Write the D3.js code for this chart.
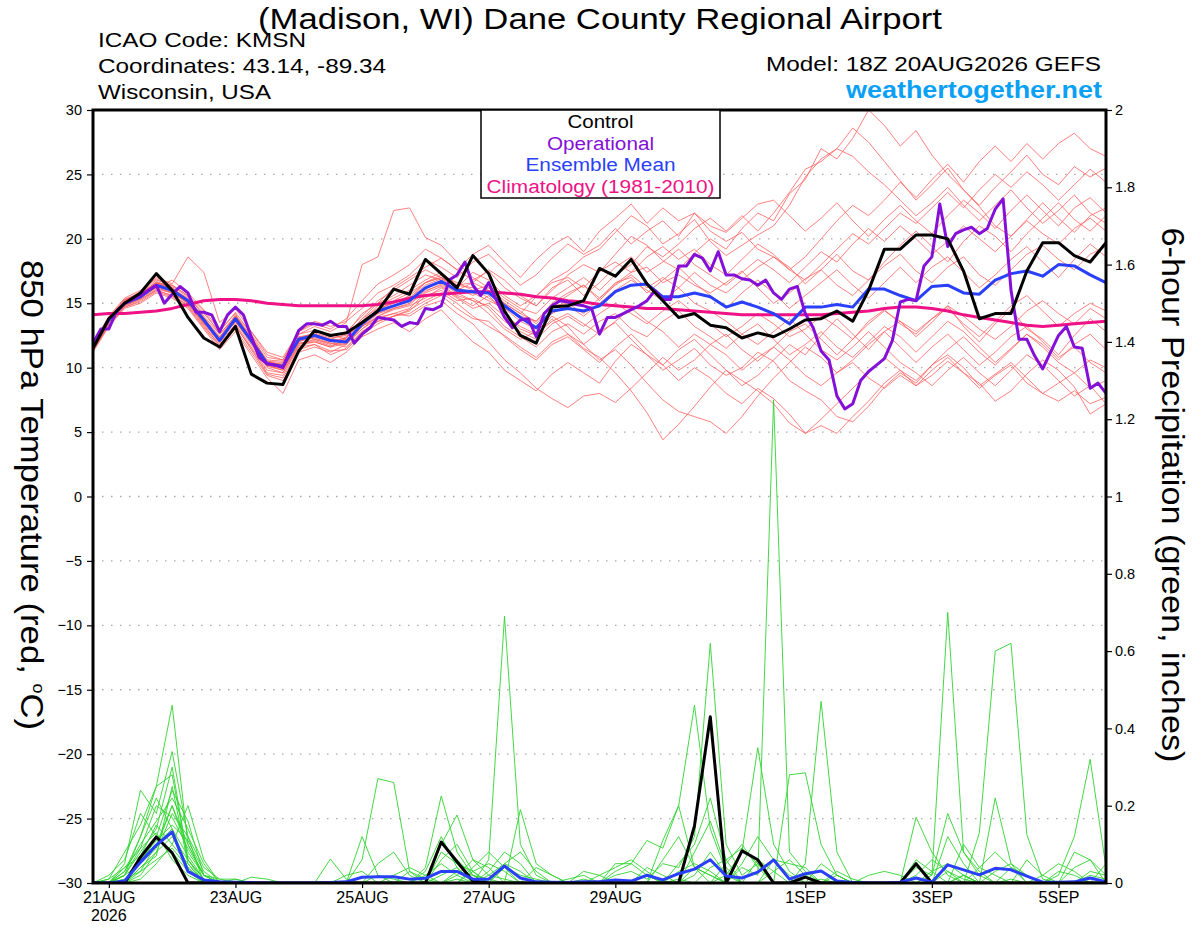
<!DOCTYPE html>
<html>
<head>
<meta charset="utf-8">
<script src="https://cdn.jsdelivr.net/npm/d3@7"></script>
<style>
  body { margin: 0; background: #fff; }
  svg { font-family: "Liberation Sans", Arial, Helvetica, sans-serif; }
</style>
</head>
<body>
<div id="chart"></div>
<script>
// ---- run / time info ----
var runStart = Date.UTC(2026, 7, 20, 18);   // 18Z 20AUG2026
var SIX_H = 6 * 3600 * 1000;
var THREE_H = 3 * 3600 * 1000;
var tickDays = [[7, 21], [7, 23], [7, 25], [7, 27], [7, 29], [8, 1], [8, 3], [8, 5]];
var monthNames = ["JAN","FEB","MAR","APR","MAY","JUN","JUL","AUG","SEP","OCT","NOV","DEC"];
var tempTicks = [-30, -25, -20, -15, -10, -5, 0, 5, 10, 15, 20, 25, 30];
var precipTicks = [0, 0.2, 0.4, 0.6, 0.8, 1, 1.2, 1.4, 1.6, 1.8, 2];

// ---- 850 hPa temperature (C), 6-hourly ----
var controlTemp = [
  11.5,13.8,15.0,15.8,17.3,16.0,13.9,12.3,11.6,13.2,9.5,8.8,8.7,
  11.3,12.9,12.5,12.7,13.5,14.4,16.1,15.7,18.4,17.3,16.2,18.7,17.3,
  14.4,12.5,11.9,14.7,14.8,15.2,17.7,17.1,18.4,16.5,15.2,13.9,14.2,
  13.3,13.1,12.3,12.7,12.4,13.0,13.7,13.8,14.4,13.6,16.0,19.2,19.2,
  20.3,20.3,20.0,17.5,13.8,14.2,14.2,17.5,19.7,19.7,18.7,18.2,19.7
];
var meanTemp = [
  11.6,13.7,15.0,15.5,16.4,16.0,15.2,13.7,12.1,13.8,12.1,10.3,10.1,
  12.2,12.5,12.1,12.0,13.4,14.4,14.8,15.2,16.2,16.7,16.0,15.9,15.8,
  14.8,13.9,13.1,14.4,14.6,14.4,14.8,15.9,16.4,16.5,15.5,15.5,15.8,
  15.5,14.7,15.1,14.7,14.2,13.4,14.7,14.7,14.9,14.7,16.1,16.1,15.6,
  15.2,16.3,16.4,15.8,15.7,16.8,17.3,17.5,17.1,18.0,17.9,17.2,16.6
];
var climoTemp = [
  14.1,14.2,14.2,14.3,14.4,14.6,14.9,15.2,15.3,15.3,15.2,15.0,14.9,
  14.8,14.8,14.8,14.8,14.8,14.9,15.1,15.4,15.6,15.7,15.8,15.9,15.9,
  15.8,15.7,15.5,15.4,15.2,15.1,14.9,14.8,14.7,14.6,14.6,14.5,14.4,
  14.3,14.2,14.1,14.1,14.1,14.1,14.1,14.1,14.2,14.3,14.4,14.6,14.7,
  14.7,14.6,14.4,14.1,13.9,13.7,13.5,13.3,13.2,13.3,13.4,13.5,13.6
];
// operational run, 3-hourly
var operTemp = [
  11.9,13.0,13.0,14.4,15.0,15.3,15.6,16.0,16.4,15.0,15.7,16.3,15.8,
  14.3,14.3,14.1,12.8,14.1,14.7,14.1,12.4,10.8,10.3,10.2,10.0,
  11.5,12.9,13.4,13.4,13.3,13.6,13.2,13.2,11.9,12.6,13.1,13.9,
  13.8,13.7,13.2,13.5,13.4,14.6,14.5,14.8,16.8,17.2,18.2,16.4,
  15.6,16.6,15.2,13.9,13.1,13.7,13.8,12.4,14.2,14.8,15.2,15.1,
  14.9,14.8,14.6,12.6,13.9,13.9,14.2,14.5,14.8,15.2,16.0,15.3,
  15.3,17.9,17.9,18.8,18.5,17.5,19.0,17.2,17.2,16.9,16.8,16.4,
  16.8,15.8,15.3,16.1,16.3,14.2,13.1,11.3,10.6,7.8,6.8,7.2,
  9.0,9.7,10.2,10.7,12.1,15.1,15.3,15.2,17.9,18.6,22.7,19.4,
  20.4,20.7,20.9,20.4,20.8,22.3,23.1,16.0,12.2,12.2,10.9,9.9,
  11.2,12.5,13.2,11.6,11.5,8.4,8.8,8.0
];
// ensemble members
var memberTemps = [
  [11.4,13.5,15.2,15.9,17.0,16.5,18.6,17.4,13.5,14.6,12.8,11.0,10.6,
   12.6,13.2,12.8,13.5,18.0,18.6,22.2,22.4,20.1,19.5,18.2,17.0,16.2,
   15.0,14.2,15.5,16.8,17.5,18.6,19.2,20.5,21.8,21.0,19.6,20.4,21.5,
   19.8,18.7,19.5,20.3,21.0,22.6,24.8,26.2,27.0,28.6,27.5,26.0,24.5,
   23.0,24.2,25.5,23.8,22.6,24.0,25.2,26.5,25.0,24.2,25.6,24.8,25.5],
  [11.8,13.9,15.0,15.6,16.2,16.8,15.8,14.5,12.9,14.2,12.0,10.2,9.8,
   11.9,12.0,11.6,12.3,13.8,15.0,16.2,17.0,17.8,18.5,17.6,16.8,17.5,
   16.2,15.4,14.8,16.0,17.2,18.0,17.4,18.8,20.2,19.5,18.3,17.6,18.9,
   20.0,19.2,20.8,22.0,21.4,23.5,24.6,27.0,26.2,27.8,30.0,28.8,27.2,
   28.4,26.5,25.0,23.8,22.5,21.0,20.2,21.5,22.8,21.6,20.5,21.8,22.4],
  [11.2,13.2,14.6,15.0,15.8,15.4,14.6,13.0,11.4,12.8,11.0,9.2,8.0,
   10.6,11.0,10.4,11.2,12.4,13.0,13.5,12.8,13.8,14.5,13.2,12.0,11.2,
   9.8,9.0,8.2,9.5,10.4,9.6,8.8,10.5,11.8,11.0,9.8,10.6,11.5,
   10.2,9.4,10.0,11.2,10.5,9.0,8.2,7.5,6.2,5.8,7.0,8.5,9.6,
   8.8,10.2,11.0,10.0,8.6,9.5,10.4,9.2,8.0,7.4,8.2,7.2,7.7],
  [11.6,13.6,15.3,15.7,16.6,16.2,15.0,13.4,12.4,13.5,12.3,10.6,10.5,
   12.0,12.8,12.6,12.2,13.2,13.9,14.2,14.6,15.8,16.3,15.5,14.8,15.6,
   14.2,13.0,12.5,13.8,12.6,11.5,10.8,9.6,8.2,6.5,4.4,5.6,7.0,
   8.5,9.8,8.6,9.4,10.6,11.8,11.0,12.5,13.8,12.6,11.4,12.8,13.6,
   12.4,13.5,14.8,13.2,12.0,13.4,14.5,13.0,12.2,11.0,12.5,13.8,12.8],
  [11.9,14.0,15.4,16.0,16.9,16.3,15.5,14.2,12.8,14.3,12.6,10.8,10.6,
   12.8,13.4,13.0,13.8,15.2,16.5,17.2,18.0,19.2,18.5,17.6,18.8,19.5,
   18.2,17.0,18.4,19.5,20.2,19.0,20.6,21.6,22.7,21.2,22.4,21.4,22.0,
   20.6,19.8,20.5,19.2,18.6,17.8,16.5,17.6,18.8,17.5,16.8,18.2,19.5,
   20.6,19.4,18.2,19.8,21.0,20.2,19.0,20.4,21.6,22.8,21.5,20.6,21.8],
  [11.3,13.4,14.8,15.3,16.0,15.6,14.8,13.2,11.8,13.2,11.5,9.6,9.4,
   11.6,11.8,11.0,11.5,12.8,13.6,14.0,14.5,15.2,15.8,15.0,14.0,13.2,
   12.5,11.6,10.8,12.0,12.6,11.8,12.8,13.5,12.2,11.0,10.2,11.4,12.2,
   11.0,9.8,9.0,8.2,7.2,5.7,4.9,5.5,4.9,6.2,7.4,8.8,9.8,
   8.6,9.4,10.5,9.6,8.8,7.4,8.2,9.5,10.6,9.8,8.5,6.4,7.2],
  [11.7,13.8,15.1,15.5,16.5,16.1,15.4,13.9,12.0,13.9,12.4,10.4,10.2,
   12.4,12.2,11.8,12.4,13.6,14.8,15.4,16.0,16.8,17.4,16.4,16.2,15.4,
   14.6,14.0,13.6,15.0,15.8,16.4,15.2,16.5,17.4,17.8,16.6,17.2,16.4,
   15.8,16.6,17.5,16.2,15.0,15.8,16.9,17.6,16.4,15.6,16.8,17.9,18.8,
   17.5,16.6,17.8,18.6,17.2,16.4,17.6,18.8,19.5,18.4,17.6,18.8,19.4],
  [11.5,13.6,14.9,15.4,16.3,15.8,15.1,13.5,12.2,13.6,11.8,10.0,9.6,
   11.8,12.2,11.9,11.6,12.8,13.6,14.0,14.4,15.6,16.0,15.2,15.4,14.6,
   13.2,12.4,11.6,12.8,13.4,12.6,13.6,14.2,13.0,12.4,13.6,14.4,13.2,
   12.4,11.5,12.6,13.4,12.2,11.0,11.8,12.8,11.6,10.8,12.0,13.2,12.4,
   11.2,12.4,13.6,12.8,11.6,10.4,11.5,12.6,11.8,10.6,11.8,12.6,11.4],
  [11.6,13.7,15.2,15.8,16.8,16.4,15.6,14.0,12.6,14.0,12.5,10.5,10.4,
   12.6,12.9,12.4,12.8,14.0,15.2,16.0,16.8,17.6,17.0,16.2,17.4,16.8,
   15.6,14.8,15.6,16.6,17.0,16.2,17.5,18.2,17.4,18.6,19.4,18.4,19.2,
   18.0,17.2,18.4,19.6,18.8,17.6,18.6,20.0,21.4,22.6,21.8,23.0,24.4,
   23.2,24.6,25.8,24.4,26.0,27.2,26.0,27.4,26.2,27.4,28.2,27.0,26.4],
  [11.4,13.3,14.7,15.1,15.9,15.5,14.7,13.1,11.6,13.0,11.2,9.4,9.0,
   11.2,11.6,11.2,11.8,13.0,13.8,14.2,14.0,14.8,15.2,14.2,13.4,12.0,
   10.6,9.6,8.4,7.6,6.9,7.8,8.0,7.3,8.4,9.6,10.8,9.8,10.6,
   11.8,12.6,11.4,10.5,11.6,12.8,13.4,12.2,11.0,12.2,13.6,14.5,13.4,
   12.6,13.8,14.6,13.4,12.4,13.6,14.8,15.6,14.4,13.2,14.2,15.0,14.4],
  [11.8,13.9,15.3,15.8,16.6,16.4,15.6,14.4,12.6,14.0,12.8,11.2,10.8,
   12.8,13.6,13.2,13.6,14.6,15.8,16.4,17.2,18.4,17.8,17.0,18.2,18.8,
   17.6,16.4,17.2,18.5,19.6,18.8,19.5,20.8,19.6,20.6,21.4,20.2,22.0,
   21.0,20.5,21.6,22.7,23.0,21.8,20.6,21.6,22.8,21.4,20.2,21.5,22.6,
   21.4,20.4,21.8,23.0,22.0,20.8,22.2,23.4,22.2,21.0,22.4,23.2,22.0],
  [11.6,13.7,15.0,15.6,16.4,15.9,15.0,13.6,12.0,13.7,12.0,10.2,9.9,
   12.0,12.4,12.0,12.2,13.4,14.2,14.6,15.0,16.0,16.4,15.6,15.2,14.2,
   13.0,12.2,12.8,14.0,13.2,11.8,10.6,11.4,10.2,8.8,7.5,6.6,6.2,
   5.8,4.9,6.2,7.8,9.2,10.4,11.6,10.8,9.6,10.6,11.8,12.8,11.6,
   10.4,11.6,12.6,11.4,10.2,11.2,12.4,13.2,12.0,10.8,11.6,10.4,9.6],
  [11.7,13.8,15.1,15.6,16.7,16.2,15.3,13.8,12.3,14.1,12.2,10.4,10.3,
   12.4,12.6,12.2,12.6,14.2,15.0,15.6,16.4,17.2,16.8,16.0,16.6,17.6,
   16.8,15.6,14.8,16.2,16.8,15.6,16.6,17.8,18.6,17.4,18.2,19.2,18.0,
   17.2,16.4,17.4,18.4,17.6,16.6,17.8,19.0,18.2,19.6,20.8,19.8,21.0,
   20.0,18.8,19.8,21.0,20.0,19.0,20.2,21.4,20.4,19.6,20.8,21.6,20.6],
  [11.5,13.5,14.8,15.3,16.1,15.8,15.0,13.4,11.9,13.4,11.6,9.8,9.6,
   11.7,12.0,11.6,11.9,13.0,14.0,14.5,14.8,15.4,16.2,15.4,14.6,15.0,
   14.0,13.2,12.6,13.6,14.2,13.4,12.6,13.6,14.6,13.6,12.8,11.6,12.6,
   11.8,11.0,9.8,10.8,11.6,10.6,9.4,8.6,9.6,10.4,9.2,8.4,9.4,
   8.6,9.8,10.8,9.6,8.4,9.4,10.2,8.8,8.0,8.8,9.6,8.4,9.0],
  [11.8,13.9,15.2,15.6,16.5,16.1,15.3,13.9,12.4,13.9,12.3,10.5,10.2,
   12.3,12.7,12.3,12.5,13.8,14.6,15.0,15.6,16.6,17.2,16.6,16.0,16.4,
   15.4,14.6,14.2,15.4,16.2,17.0,16.0,17.2,18.0,19.4,18.6,19.6,20.8,
   21.6,20.6,21.8,20.6,22.0,23.6,25.4,26.0,27.0,26.4,25.2,24.2,23.0,
   21.8,22.8,24.0,22.6,21.4,22.6,23.8,22.4,21.2,22.2,23.4,22.0,21.2],
  [11.6,13.6,15.0,15.4,16.3,16.0,15.1,13.6,12.2,13.8,12.1,10.3,10.0,
   12.1,12.3,11.9,11.8,13.2,14.2,14.8,15.4,16.4,16.9,16.2,15.6,16.2,
   15.2,14.4,13.4,14.8,15.0,14.2,15.4,16.6,17.0,15.8,16.8,17.8,16.6,
   15.6,14.6,15.8,16.8,15.8,14.6,15.6,16.6,17.6,16.4,15.4,16.6,17.8,
   16.6,17.8,18.6,17.4,16.2,17.2,18.4,19.4,18.2,17.0,18.4,19.6,18.6],
  [11.3,13.3,14.7,15.2,16.0,15.6,14.9,13.3,11.7,13.3,11.4,9.5,9.2,
   11.4,11.8,11.3,11.4,12.6,13.4,14.0,14.2,15.0,15.6,14.6,13.8,13.6,
   12.4,11.4,10.6,11.8,12.4,11.4,10.4,11.6,12.6,11.4,10.2,9.0,10.0,
   9.2,8.0,7.2,8.4,7.6,6.4,4.9,6.0,7.2,8.4,9.6,10.8,9.8,
   9.0,10.2,11.4,12.4,11.2,10.2,11.4,12.6,11.6,10.4,9.6,10.6,10.0],
  [11.7,13.7,15.1,15.7,16.6,16.1,15.2,13.8,12.1,13.8,12.2,10.4,10.2,
   12.3,12.5,12.1,12.3,13.6,14.4,15.2,15.8,16.6,17.0,16.4,16.6,16.0,
   15.0,14.2,13.6,14.8,15.6,16.4,15.4,16.4,17.2,16.2,17.0,16.2,17.4,
   16.4,15.8,16.8,17.8,18.6,17.6,16.8,18.0,19.2,20.4,19.6,20.8,22.0,
   21.2,22.4,23.6,22.4,23.8,25.0,24.0,25.2,24.2,23.0,24.2,25.4,24.4],
  [11.5,13.5,14.9,15.4,16.2,15.8,15.0,13.5,12.0,13.6,11.9,10.1,9.8,
   11.9,12.1,11.7,12.0,13.2,14.0,14.6,14.9,15.9,16.5,15.8,15.2,14.8,
   13.6,12.8,12.2,13.4,14.0,13.2,14.2,15.0,14.2,13.4,14.4,15.2,14.2,
   13.4,12.4,13.2,14.2,13.4,12.4,13.0,14.0,13.2,12.2,13.4,14.4,13.6,
   12.8,13.8,14.8,14.0,13.0,12.2,13.2,14.4,15.2,14.2,13.4,14.6,13.8],
  [11.6,13.8,15.1,15.6,16.4,16.0,15.2,13.7,12.2,13.9,12.2,10.2,10.0,
   12.2,12.6,12.2,12.1,13.4,14.6,15.0,15.4,16.6,17.0,16.2,15.8,15.2,
   14.6,13.6,13.0,14.2,14.8,14.0,15.0,16.0,16.8,16.0,15.2,16.2,15.0,
   14.4,13.6,12.6,11.8,12.8,13.8,12.6,11.4,10.6,11.6,12.8,11.6,10.4,
   9.6,8.6,9.8,10.8,9.6,8.6,9.8,11.0,10.2,9.0,7.8,8.6,7.2]
];

// ---- 6-hour precipitation (inches) ----
var controlPrecip = [
  0,0,0,.067,.119,.078,0,0,0,0,0,0,0,
  0,0,0,0,0,0,0,0,0,.106,.055,.005,0,
  0,0,0,0,0,0,0,0,0,0,0,0,.148,
  .43,0,.083,.06,0,0,.015,0,0,0,0,0,0,
  .05,0,0,0,0,0,0,0,0,0,0,0,0
];
var meanPrecip = [
  0,0,.005,.054,.098,.132,.03,.008,.003,.002,.001,0,0,
  0,0,.001,.003,.015,.016,.016,.01,.012,.03,.03,.01,.01,
  .044,.013,.003,.002,.001,.003,.003,.008,.005,.02,.008,.024,.036,
  .06,.018,.013,.028,.06,.01,.024,.031,.005,.001,0,0,.002,
  .013,.002,.047,.034,.021,.038,.034,.018,.002,.002,.003,.013,.003
];
var memberPrecips = [
  [0,0,.02,.12,.25,.46,.10,.02,0,0,0,0,0,
   0,0,0,0,0,0,0,0,0,0,.02,.06,.02,
   .01,0,0,0,0,0,0,.02,.03,.01,.05,.04,.12,
   .62,.10,.02,.05,0,0,0,.01,0,0,0,0,0,
   0,0,.03,.01,0,0,.01,0,0,0,0,0,0],
  [0,0,.05,.24,.18,.34,.12,0,0,0,0,0,0,
   0,0,0,0,.06,.27,.26,.03,0,0,.01,0,0,
   0,0,0,0,0,0,0,0,0,.02,0,.01,0,
   0,0,.04,.02,1.25,.08,.03,0,0,0,0,0,0,
   0,0,0,.02,0,0,0,0,0,0,0,.02,.01],
  [0,.01,.08,.15,.25,.28,.06,.01,0,0,.015,.01,0,
   0,0,0,0,0,0,0,0,.04,.225,.08,.02,.01,
   0,0,0,0,0,.01,0,.05,.05,.11,.09,.20,.46,
   .14,.03,0,0,0,0,0,0,0,0,0,0,0,
   .17,.08,.02,0,0,0,0,0,0,0,0,0,0],
  [0,0,0,.06,.10,.20,.08,.02,0,0,0,0,0,
   0,0,0,0,0,0,0,0,0,0,0,0,.06,
   .69,.10,.02,0,0,0,0,0,0,0,0,.05,.10,
   .22,.06,0,0,0,0,0,0,0,0,0,0,0,
   0,.02,.70,.08,.03,0,0,0,0,0,0,0,0],
  [0,0,.03,.10,.16,.22,.14,.05,0,0,0,0,0,
   0,0,.062,.01,0,0,0,0,0,.10,.176,.06,.04,
   0,0,0,0,0,0,0,0,0,0,0,0,.02,
   .08,.02,.08,.35,.10,.03,0,0,0,0,0,0,0,
   0,0,0,0,0,.22,.05,0,0,0,0,0,0],
  [0,.02,.06,.18,.12,.08,.03,0,0,0,0,0,0,
   0,0,0,0,0,.05,.08,.02,0,0,0,0,0,
   0,.19,.05,.02,0,0,0,0,0,0,0,0,0,
   0,0,0,0,0,.28,.285,.10,.02,0,0,0,0,
   0,0,0,0,.13,.60,.62,.125,.01,0,0,0,0],
  [0,0,0,.04,.08,.18,.12,.04,.01,.01,0,0,0,
   0,0,0,0,.12,.02,0,0,0,0,0,.03,.05,
   .03,0,0,0,0,0,0,0,0,0,0,0,0,
   0,0,0,0,0,0,.05,.47,.08,0,0,0,0,
   0,0,0,0,0,0,0,0,0,.02,.12,.32,.04],
  [0,0,.01,.05,.12,.24,.16,.02,0,0,0,0,0,
   0,0,0,0,0,0,0,0,0,.06,.10,.03,0,
   0,0,0,0,0,0,0,0,0,0,.11,.20,.04,
   .02,0,0,0,0,0,0,0,0,0,0,0,0,
   .04,.02,.18,.08,.02,0,0,0,0,0,0,0,0],
  [0,0,.04,.07,.15,.10,.05,0,0,0,0,0,0,
   0,0,0,0,0,0,.02,.04,.02,0,0,0,0,
   .04,.02,.01,0,0,0,0,0,0,0,0,0,0,
   0,.05,.10,.04,0,0,0,0,.03,.01,0,0,0,
   0,0,0,0,0,0,.04,.02,0,0,0,0,0],
  [0,0,0,.02,.08,.12,.06,.01,0,0,0,0,0,
   0,0,0,0,0,0,0,0,0,.08,.05,.03,0,
   0,0,0,0,0,0,.02,.04,.06,.03,0,0,0,
   0,0,0,0,.06,.02,0,0,0,0,0,0,0,
   0,0,0,0,0,0,0,0,.02,.05,.03,0,0],
  [0,0,.02,.09,.20,.17,.09,.02,.01,0,0,0,0,
   0,0,0,.02,.03,0,0,0,0,0,0,0,.03,
   .08,.05,0,0,0,0,0,0,0,0,0,0,.08,
   .16,.04,0,0,0,0,0,0,0,0,0,0,0,
   0,0,.12,.05,0,0,0,0,0,0,0,.03,.02],
  [0,0,0,.03,.06,.09,.04,0,0,0,0,0,0,
   0,0,0,0,0,0,0,0,.03,.12,.04,0,0,
   0,0,0,0,.01,.02,0,0,0,0,0,.03,.05,
   .03,0,0,0,0,0,0,0,0,0,.02,.03,.02,
   0,0,0,0,.04,.08,.04,0,0,0,0,0,0],
  [0,0,.03,.12,.22,.14,.04,0,0,0,0,0,0,
   0,0,0,0,0,0,0,0,0,0,.03,.02,0,
   0,0,0,0,0,0,0,0,0,0,0,0,0,
   0,0,.05,.12,.06,.05,.04,0,0,0,0,0,0,
   0,0,0,0,0,0,0,.06,.02,0,.08,.06,0],
  [0,0,0,.01,.05,.10,.20,.06,0,0,0,0,0,
   0,0,0,0,0,0,0,.03,.01,0,0,0,0,
   0,0,.04,.02,0,0,0,0,0,.04,.02,0,0,
   0,0,0,0,0,0,0,0,.02,0,0,0,0,
   .06,.03,0,.02,0,0,0,0,0,0,0,0,0],
  [0,0,.02,.08,.14,.30,.06,0,0,0,0,0,0,
   0,0,0,0,0,0,0,0,0,.10,.06,.02,0,
   0,0,0,0,0,0,0,0,0,0,0,0,0,
   .04,.06,.09,.05,0,0,0,0,0,0,0,0,0,
   0,0,0,.10,.04,.02,0,0,0,0,0,0,0],
  [0,0,0,.06,.11,.15,.11,.03,0,0,0,0,0,
   0,0,0,0,0,.02,.01,0,0,0,0,0,0,
   .05,.08,.03,0,0,0,0,0,0,0,0,0,0,
   0,0,0,0,.03,.06,.02,0,0,0,0,0,0,
   0,0,0,0,0,0,0,0,0,0,.04,.06,.02],
  [0,.01,.04,.09,.13,.06,.02,0,0,.01,0,0,0,
   0,0,0,0,0,0,0,0,0,0,0,.04,.08,
   .04,0,0,0,0,0,0,.03,.05,.02,0,0,0,
   0,.02,0,0,0,0,0,0,0,0,0,0,0,
   0,.03,.05,.02,0,0,0,0,0,0,0,0,0],
  [0,0,.02,.05,.09,.20,.10,.02,0,0,0,0,0,
   0,0,0,0,0,0,0,0,0,.02,.04,0,0,
   0,0,0,0,0,0,0,0,0,0,.06,.12,.04,
   0,0,0,0,0,0,0,.05,.02,0,0,0,0,
   0,0,0,0,0,.03,.05,.02,0,0,0,0,0],
  [0,0,0,.04,.07,.25,.05,0,0,0,0,0,0,
   0,0,0,0,0,0,0,0,.02,.05,.02,0,0,
   0,0,0,0,0,.03,.02,0,0,0,0,0,.04,
   .02,0,0,0,0,0,.02,.03,0,0,0,0,0,
   0,0,0,0,0,0,0,0,0,.03,.02,0,0],
  [0,0,.01,.03,.10,.14,.07,.01,0,0,0,0,0,
   0,0,0,0,0,0,0,0,0,0,0,0,.02,
   .05,.03,0,0,0,0,0,0,0,0,0,0,0,
   0,0,0,.06,.03,0,0,0,0,0,0,0,0,
   .02,.06,.03,0,0,0,0,0,0,0,0,0,.05]
];

// ---- layout ----
var svgWidth = 1200;
var svgHeight = 927;
var margin = { top: 110, right: 94, bottom: 44, left: 93 };
var width = svgWidth - margin.left - margin.right;
var height = svgHeight - margin.top - margin.bottom;

var svg = d3.select("#chart")
  .append("svg")
  .attr("width", svgWidth)
  .attr("height", svgHeight);

var chartGroup = svg.append("g")
  .attr("transform", `translate(${margin.left}, ${margin.top})`);

var times6 = controlTemp.map((d, i) => new Date(runStart + i * SIX_H));
var times3 = operTemp.map((d, i) => new Date(runStart + i * THREE_H));

var xScale = d3.scaleUtc()
  .domain([times6[0], times6[times6.length - 1]])
  .range([0, width]);
var yTemp = d3.scaleLinear().domain([-30, 30]).range([height, 0]);
var yPrecip = d3.scaleLinear().domain([0, 2]).range([height, 0]);

svg.append("defs").append("clipPath").attr("id", "plotclip")
  .append("rect").attr("width", width).attr("height", height);

// grid lines
chartGroup.append("g")
  .selectAll("line")
  .data(tempTicks.slice(1, -1))
  .enter()
  .append("line")
  .attr("x1", 0).attr("x2", width)
  .attr("y1", d => yTemp(d)).attr("y2", d => yTemp(d))
  .attr("stroke", "#aaaaaa")
  .attr("stroke-width", 1.3)
  .attr("stroke-dasharray", "1.5,7.5");

var plot = chartGroup.append("g").attr("clip-path", "url(#plotclip)");

var lineT6 = d3.line().x((d, i) => xScale(times6[i])).y(d => yTemp(d));
var lineT3 = d3.line().x((d, i) => xScale(times3[i])).y(d => yTemp(d));
var lineP6 = d3.line().x((d, i) => xScale(times6[i])).y(d => yPrecip(d));

// members
plot.append("g").selectAll("path")
  .data(memberTemps).enter().append("path")
  .attr("d", lineT6)
  .attr("fill", "none")
  .attr("stroke", "#ff5a5a")
  .attr("stroke-opacity", 0.85)
  .attr("stroke-width", 0.9);

plot.append("g").selectAll("path")
  .data(memberPrecips).enter().append("path")
  .attr("d", lineP6)
  .attr("fill", "none")
  .attr("stroke", "#2fd42f")
  .attr("stroke-width", 0.9);

// main lines
function mainLine(data, gen, color) {
  plot.append("path")
    .datum(data)
    .attr("d", gen)
    .attr("fill", "none")
    .attr("stroke", color)
    .attr("stroke-width", 3)
    .attr("stroke-linejoin", "round");
}
mainLine(climoTemp, lineT6, "#ee1286");
mainLine(meanTemp, lineT6, "#2a3ffa");
mainLine(operTemp, lineT3, "#8410d8");
mainLine(controlTemp, lineT6, "#000000");
mainLine(controlPrecip, lineP6, "#000000");
mainLine(meanPrecip, lineP6, "#2a3ffa");

// axes
var leftAxis = d3.axisLeft(yTemp).tickValues(tempTicks).tickSize(6).tickPadding(5).tickFormat(d3.format("d"));
var rightAxis = d3.axisRight(yPrecip).tickValues(precipTicks).tickSize(6).tickPadding(3).tickFormat(d => String(d));
var tickDates = tickDays.map(d => new Date(Date.UTC(2026, d[0], d[1])));
var bottomAxis = d3.axisBottom(xScale).tickValues(tickDates).tickSize(5).tickPadding(4)
  .tickFormat(d => d.getUTCDate() + monthNames[d.getUTCMonth()]);

function styleAxis(g, size) {
  g.select(".domain").remove();
  g.selectAll(".tick line").attr("stroke", "#000").attr("stroke-width", 1.2);
  g.selectAll(".tick text").attr("fill", "#000").style("font-size", size + "px")
    .style("font-family", '"Liberation Sans", Arial, sans-serif');
}

chartGroup.append("g").call(leftAxis).call(g => styleAxis(g, 14.5));
chartGroup.append("g").attr("transform", `translate(${width}, 0)`).call(rightAxis).call(g => styleAxis(g, 14.5));
chartGroup.append("g").attr("transform", `translate(0, ${height})`).call(bottomAxis).call(g => styleAxis(g, 16));

chartGroup.append("text")
  .attr("x", xScale(tickDates[0]))
  .attr("y", height + 38)
  .attr("text-anchor", "middle")
  .style("font-size", "16px")
  .text("2026");

// frame
chartGroup.append("rect")
  .attr("width", width).attr("height", height)
  .attr("fill", "none").attr("stroke", "#000").attr("stroke-width", 3);

// legend
var legend = chartGroup.append("g").attr("transform", `translate(${388}, 0)`);
legend.append("rect")
  .attr("width", 239).attr("height", 88)
  .attr("fill", "#fff").attr("stroke", "#000").attr("stroke-width", 1.5);
var legendItems = [
  ["Control", "#000000", 66],
  ["Operational", "#8410d8", 107],
  ["Ensemble Mean", "#2a3ffa", 150],
  ["Climatology (1981-2010)", "#ee1286", 228]
];
legend.selectAll("text.leg")
  .data(legendItems).enter().append("text")
  .attr("class", "leg")
  .attr("x", 119.5)
  .attr("y", (d, i) => 18 + i * 21.6)
  .attr("text-anchor", "middle")
  .attr("fill", d => d[1])
  .attr("textLength", d => d[2])
  .attr("lengthAdjust", "spacingAndGlyphs")
  .style("font-size", "18px")
  .text(d => d[0]);

// titles
svg.append("text")
  .attr("x", 600).attr("y", 29)
  .attr("text-anchor", "middle")
  .attr("textLength", 684)
  .attr("lengthAdjust", "spacingAndGlyphs")
  .style("font-size", "30px")
  .text("(Madison, WI) Dane County Regional Airport");

var info = [["ICAO Code: KMSN", 208], ["Coordinates: 43.14, -89.34", 288], ["Wisconsin, USA", 173]];
svg.selectAll("text.info")
  .data(info).enter().append("text")
  .attr("class", "info")
  .attr("x", 98)
  .attr("y", (d, i) => 47 + i * 26)
  .attr("textLength", d => d[1])
  .attr("lengthAdjust", "spacingAndGlyphs")
  .style("font-size", "21px")
  .text(d => d[0]);

svg.append("text")
  .attr("x", 1101).attr("y", 71)
  .attr("text-anchor", "end")
  .attr("textLength", 335)
  .attr("lengthAdjust", "spacingAndGlyphs")
  .style("font-size", "21px")
  .text("Model: 18Z 20AUG2026 GEFS");

svg.append("text")
  .attr("x", 1102).attr("y", 98)
  .attr("text-anchor", "end")
  .attr("fill", "#0aa0f5")
  .attr("textLength", 256)
  .attr("lengthAdjust", "spacingAndGlyphs")
  .style("font-size", "24px")
  .style("font-weight", "bold")
  .text("weathertogether.net");

// axis titles
var leftTitle = svg.append("text")
  .attr("transform", "translate(21, 495) rotate(90)")
  .attr("text-anchor", "middle")
  .attr("textLength", 470)
  .attr("lengthAdjust", "spacingAndGlyphs")
  .style("font-size", "31px");
leftTitle.append("tspan").text("850 hPa Temperature (red, ");
leftTitle.append("tspan").attr("dy", -12).style("font-size", "16px").text("o");
leftTitle.append("tspan").attr("dy", 12).text("C)");

svg.append("text")
  .attr("transform", "translate(1162, 495) rotate(90)")
  .attr("text-anchor", "middle")
  .attr("textLength", 535)
  .attr("lengthAdjust", "spacingAndGlyphs")
  .style("font-size", "31px")
  .text("6-hour Precipitation (green, inches)");
</script>
</body>
</html>
